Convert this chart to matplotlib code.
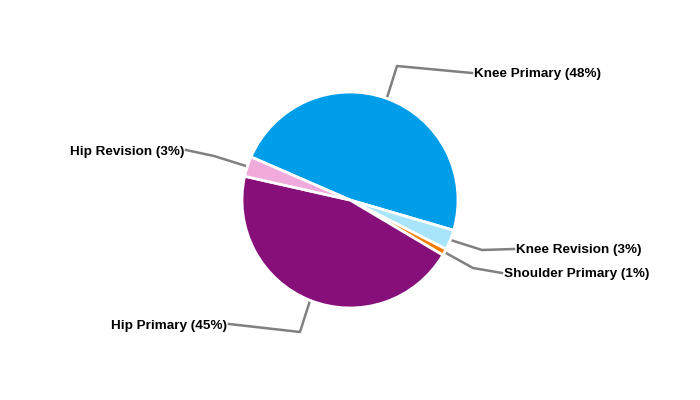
import matplotlib.pyplot as plt
import numpy as np

# dados do gráfico
categorias = ["Knee Primary", "Knee Revision", "Shoulder Primary", "Hip Primary", "Hip Revision"]
valores = [48, 3, 1, 45, 3]
cores = ["#009DE8", "#A9E5FA", "#F57C00", "#860F7A", "#F0AADB"]

# posição dos cotovelos e dos textos (pixels, y de cima para baixo)
cotovelos = [(397, 66), (482, 250), (473, 268), (300, 332), (214, 156)]
fim_linha = [(472, 73), (514, 249), (502, 273), (229, 324), (186, 150)]

plt.rcParams["font.family"] = ["Liberation Sans", "DejaVu Sans"]

fig = plt.figure(figsize=(7, 4), dpi=100)
ax = fig.add_axes([0, 0, 1, 1])

cx, cy, r = 350, 200, 108
fatias, _ = ax.pie(valores, colors=cores, startangle=156.5, counterclock=False,
                   center=(cx, cy), radius=r,
                   wedgeprops=dict(edgecolor="white", linewidth=2))
# o pie redefine os limites, então ajusta depois
ax.set_xlim(0, 700)
ax.set_ylim(0, 400)
ax.set_aspect("equal")
ax.axis("off")

total = sum(valores)
for f, nome, v, cot, fim in zip(fatias, categorias, valores, cotovelos, fim_linha):
    ang = np.deg2rad((f.theta1 + f.theta2) / 2)
    x0, y0 = cx + r * np.cos(ang), cy + r * np.sin(ang)
    xs = [x0, cot[0], fim[0]]
    ys = [y0, 400 - cot[1], 400 - fim[1]]
    ax.plot(xs, ys, color="#808080", linewidth=1.8, zorder=0)
    pct = round(100 * v / total)
    if fim[0] > cx:
        ax.text(fim[0] + 2, 400 - fim[1] - 1.5, f"{nome} ({pct}%)", ha="left", va="center",
                fontsize=9.7, fontweight="bold", color="black")
    else:
        ax.text(fim[0] - 2, 400 - fim[1] - 1.5, f"{nome} ({pct}%)", ha="right", va="center",
                fontsize=9.7, fontweight="bold", color="black")

plt.savefig("out.png", dpi=100)
